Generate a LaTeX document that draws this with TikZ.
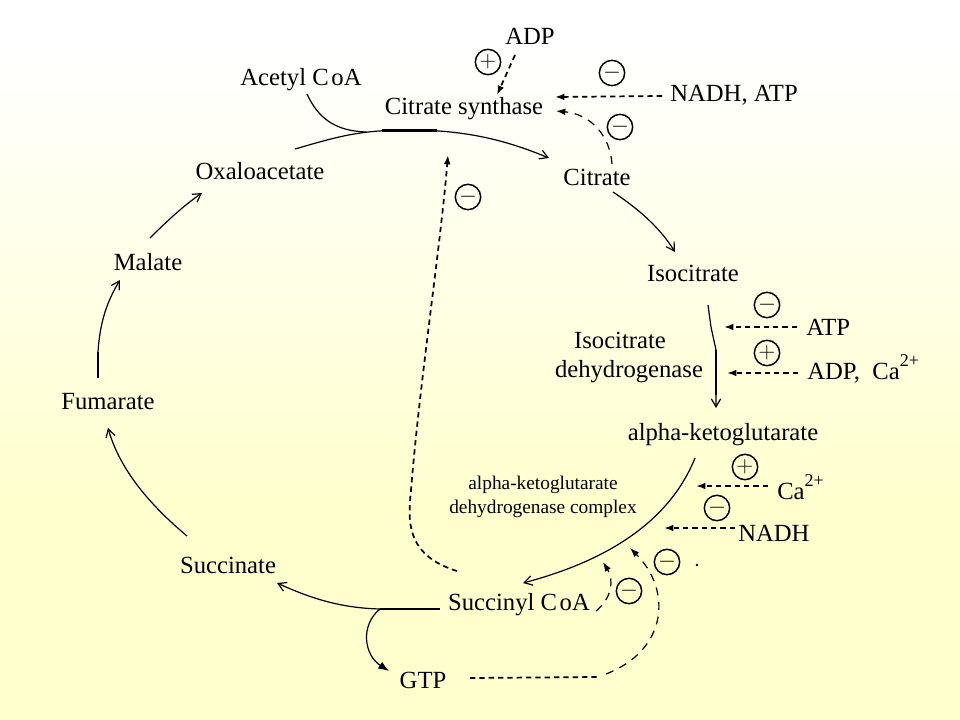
\documentclass[tikz,border=0pt]{standalone}
\usepackage{fontspec}
\setmainfont{Liberation Serif}
\usetikzlibrary{arrows.meta}
\definecolor{bgyellow}{RGB}{255,255,206}
\newcommand{\ionsup}{\raisebox{9.5pt}{\fontsize{13.5}{14}\selectfont 2+}}
\begin{document}
\begin{tikzpicture}[x=0.75pt,y=-0.75pt,
  lbl/.style={font=\fontsize{18.5}{20}\selectfont, inner sep=0pt},
  sml/.style={font=\fontsize{14.5}{17.5}\selectfont, inner sep=0pt, align=center},
  modc/.style={circle, draw, line width=1.1pt, minimum size=19pt, inner sep=0pt, font=\fontsize{16}{16}\selectfont},
  cyc/.style={line width=0.9pt, -{Straight Barb[length=6pt,width=7pt]}},
  thk/.style={line width=2.2pt},
  reg/.style={line width=1.3pt, dash pattern=on 4pt off 3pt, -{Latex[length=7pt,width=5pt]}},
  lreg/.style={line width=0.9pt, dash pattern=on 6pt off 5pt, -{Latex[length=7pt,width=5pt]}},
]
% background
\fill[bgyellow] (0,0) rectangle (960,720);
\fill[white] (0,0) rectangle (960,50);
\shade[top color=white, bottom color=bgyellow] (0,50) rectangle (960,500);
\useasboundingbox (0,0) rectangle (960,720);

% labels
\node[lbl] (adp) at (530,36) {ADP};
\node[lbl] (acoa) at (301,80) {Acetyl C\kern2pt oA};
\node[lbl] (cs) at (464,109) {Citrate synthase};
\node[lbl, anchor=west] (nadhatp) at (670,95) {NADH, ATP};
\node[lbl] (oxa) at (260,171) {Oxaloacetate};
\node[lbl] (cit) at (597,177) {Citrate};
\node[lbl] (iso) at (693,273) {Isocitrate};
\node[lbl] (mal) at (148,262) {Malate};
\node[lbl] (idh1) at (620,340) {Isocitrate};
\node[lbl] (idh2) at (629,372) {dehydrogenase};
\node[lbl, anchor=west] (atp) at (806,327) {ATP};
\node[lbl, anchor=base west] (adpca) at (807,379) {ADP,\enspace Ca\ionsup};
\node[lbl] (akg) at (723,435) {alpha-ketoglutarate};
\node[lbl] (fum) at (108,402) {Fumarate};
\node[sml] (akgdh) at (543,497) {alpha-ketoglutarate\\dehydrogenase complex};
\node[lbl, anchor=base west] (ca) at (777,499) {Ca\ionsup};
\node[lbl, anchor=west] (nadh) at (738,533) {NADH};
\node[lbl] (succ) at (228,565) {Succinate};
\node[lbl] (scoa) at (519,605) {Succinyl C\kern2pt oA};
\node[lbl] (gtp) at (423,680) {GTP};

% modifier circles
\node[modc] (m1) at (488,62) {$+$};
\node[modc] (m2) at (612,73) {$-$};
\node[modc] (m3) at (620,127) {$-$};
\node[modc] (m4) at (468,197) {$-$};
\node[modc] (m5) at (767,305) {$-$};
\node[modc] (m6) at (767,353) {$+$};
\node[modc] (m7) at (745,467) {$+$};
\node[modc] (m8) at (717,508) {$-$};
\node[modc] (m9) at (667,562) {$-$};
\node[modc] (m10) at (629,591) {$-$};

% named end points
\coordinate (oxaout) at (295,149);
\coordinate (citin) at (549,158);
\coordinate (acoaout) at (307,94);
\coordinate (citout) at (613,192);
\coordinate (isoin) at (675,252);
\coordinate (isoout) at (708,305);
\coordinate (akgin) at (716,408);
\coordinate (akgout) at (695,458);
\coordinate (scoain) at (523,583);
\coordinate (scoaout) at (440,609);
\coordinate (br) at (380,609);
\coordinate (succin) at (277,583);
\coordinate (gtpin) at (389,671);
\coordinate (succout) at (187,536);
\coordinate (fumin) at (108,428);
\coordinate (fumout) at (98,378);
\coordinate (malin) at (120,280);
\coordinate (malout) at (150,238);
\coordinate (oxain) at (202,193);

% main cycle
\draw[cyc] (oxaout) .. controls (340,136) and (360,130) .. (410,130)
  .. controls (470,130) and (510,142) .. (citin);
\draw[line width=0.9pt] (acoaout) .. controls (318,118) and (335,131) .. (366,132);
\draw[thk] (382,130.5) -- (437,130.5);
\draw[cyc] (citout) .. controls (640,210) and (660,228) .. (isoin);
\draw[cyc] (isoout) -- (711,327) -- (716,350) -- (akgin);
\draw[thk] (716,350) -- (716,395);
\draw[cyc] (akgout) .. controls (670,520) and (610,560) .. (scoain);
\draw[thk] (scoaout) -- (br);
\draw[cyc] (br) .. controls (340,608) and (310,598) .. (succin);
\draw[line width=0.9pt, -{Latex[length=8pt,width=6pt]}] (br) .. controls (360,625) and (364,655) .. (gtpin);
\draw[cyc] (succout) .. controls (150,505) and (120,470) .. (fumin);
\draw[cyc] (fumout) -- (98,352) .. controls (100,320) and (108,300) .. (malin);
\draw[thk] (98,352) -- (98,378);
\draw[cyc] (malout) .. controls (170,218) and (186,204) .. (oxain);

% regulation
\draw[reg] (515,55) -- (497,95);
\draw[reg] (662,96) -- (555,97);
\draw[lreg] (612,164) .. controls (610,135) and (590,114) .. (556,111);
\draw[reg] (457,571) .. controls (405,555) and (408,520) .. (411,490)
  .. controls (420,380) and (440,250) .. (448,155);
\draw[reg] (797,327) -- (724,327);
\draw[reg] (798,373) -- (727,373);
\draw[reg] (768,486) -- (696,486);
\draw[reg] (735,528) -- (664,528);
\draw[lreg] (596,611) .. controls (612,598) and (614,580) .. (603,562);
\draw[line width=1.3pt, dash pattern=on 4pt off 3pt] (470,678) -- (598,677);
\draw[lreg] (606,674) .. controls (668,650) and (672,590) .. (630,548);
\fill (697,565) circle (1pt);
\end{tikzpicture}
\end{document}
